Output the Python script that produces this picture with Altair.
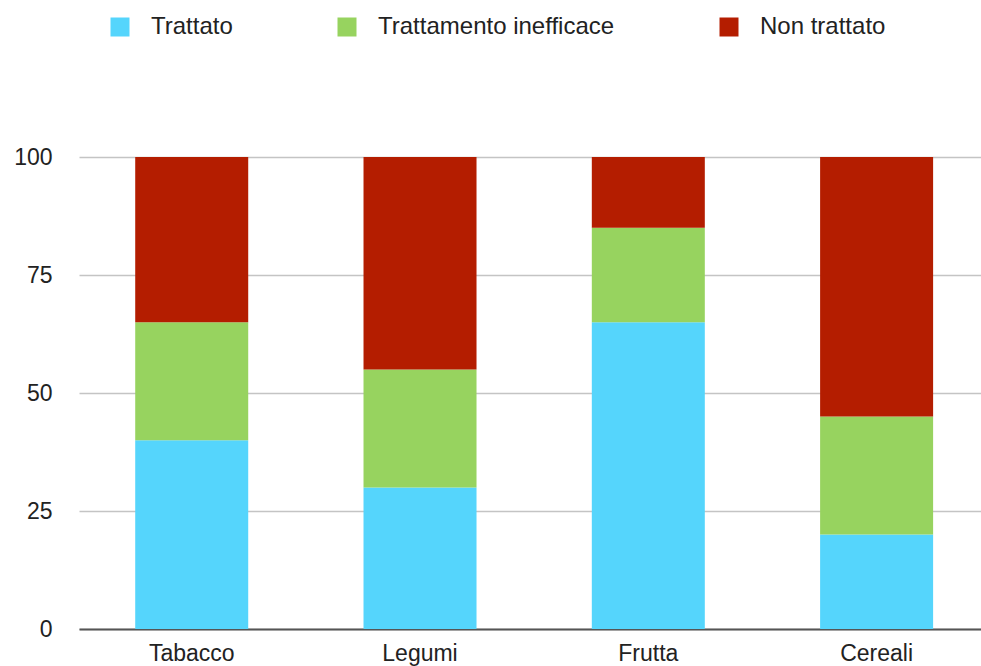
import altair as alt
import pandas as pd

categories = ["Tabacco", "Legumi", "Frutta", "Cereali"]
series = ["Trattato", "Trattamento inefficace", "Non trattato"]
trattato = [40, 30, 65, 20]
inefficace = [25, 25, 20, 25]
non_trattato = [35, 45, 15, 55]
colors = ["#55D5FC", "#97D35F", "#B41D00"]
y_ticks = [0, 25, 50, 75, 100]

rows = []
for i, c in enumerate(categories):
    for k, (s, vals) in enumerate(zip(series, [trattato, inefficace, non_trattato])):
        rows.append({"categoria": c, "serie": s, "valore": vals[i], "ordine": k})
df = pd.DataFrame(rows)

FONT = "Liberation Sans"
FS = 23

chart = alt.Chart(df).mark_bar().encode(
    x=alt.X("categoria:N", sort=categories,
            scale=alt.Scale(paddingInner=0.505, paddingOuter=0.228, align=0.54),
            axis=alt.Axis(title=None, labelAngle=0, ticks=False, labelPadding=13,
                          labelFontSize=FS, labelFont=FONT, labelColor="#222",
                          domainColor="#555", domainWidth=2, grid=False)),
    y=alt.Y("valore:Q", stack="zero",
            scale=alt.Scale(domain=[0, 100], nice=False),
            axis=alt.Axis(title=None, values=y_ticks, ticks=False, domain=False,
                          labelPadding=27, labelFontSize=FS, labelFont=FONT,
                          labelColor="#222", gridColor="#c4c4c4", gridWidth=1.5)),
    color=alt.Color("serie:N", sort=series,
                    scale=alt.Scale(domain=series, range=colors),
                    legend=alt.Legend(title=None, orient="none", direction="horizontal",
                                      legendX=29, legendY=-142,
                                      symbolType="square", symbolSize=361,
                                      symbolStrokeWidth=0, labelOffset=19,
                                      labelFontSize=24, labelFont=FONT, labelLimit=0,
                                      labelColor="#222", columnPadding=102)),
    order=alt.Order("ordine:Q"),
).properties(
    width=902, height=472,
    autosize=alt.AutoSizeParams(type="none"),
    padding={"left": 79, "top": 157, "right": 0, "bottom": 37},
).configure_view(stroke=None)

chart.save("out.html", embed_options={"renderer": "svg", "actions": False})
